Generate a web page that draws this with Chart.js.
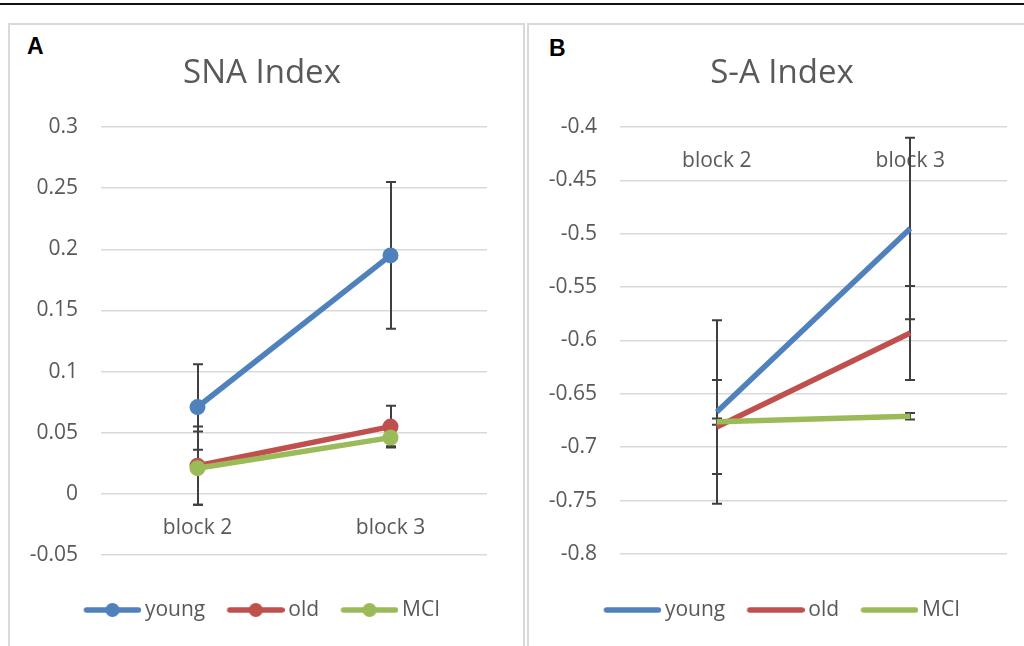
<!DOCTYPE html>
<html>
<head>
<meta charset="utf-8">
<script src="https://cdn.jsdelivr.net/npm/chart.js@4.4.1/dist/chart.umd.min.js"></script>
<style>
  body { margin: 0; width: 1024px; height: 646px; overflow: hidden; background: #fff; position: relative; }
  #rule { position: absolute; left: 0; top: 3px; width: 1024px; height: 2px; background: #111; }
  .panel { position: absolute; top: 23px; height: 640px; border: 2px solid #d9d9d9; box-sizing: border-box; }
  .tag { position: absolute; font: bold 23px "Liberation Sans", Arial, sans-serif; line-height: 23px; color: #000; }
  canvas { position: absolute; top: 27px; }
</style>
</head>
<body>
<div id="rule"></div>
<div class="panel" style="left:8px; width:517px;"></div>
<div class="panel" style="left:527px; width:520px;"></div>
<span class="tag" style="left:27px; top:35px;">A</span>
<span class="tag" style="left:549px; top:37px;">B</span>
<canvas id="chartA" width="504" height="619" style="left:10px;"></canvas>
<canvas id="chartB" width="504" height="619" style="left:530px;"></canvas>

<script>
// categories
const blocks = ['block 2', 'block 3'];
const groups = ['young', 'old', 'MCI'];
const groupColors = ['#4F81BD', '#C0504D', '#9BBB59'];

// A: SNA Index (mean and error)
const snaYoung = [0.071, 0.195];
const snaOld = [0.023, 0.055];
const snaMCI = [0.021, 0.046];
const snaYoungErr = [0.035, 0.060];
const snaOldErr = [0.032, 0.017];
const snaMCIErr = [0.030, 0.007];

// B: S-A Index (mean and error)
const saYoung = [-0.667, -0.495];
const saOld = [-0.681, -0.593];
const saMCI = [-0.676, -0.671];
const saYoungErr = [0.086, 0.085];
const saOldErr = [0.044, 0.044];
const saMCIErr = [0.003, 0.003];

const textGrey = '#595959';
const fontFam = '"Open Sans", "Noto Sans", sans-serif';

// error bars drawn under the series
const errorBars = {
  id: 'errorBars',
  beforeDatasetsDraw(chart) {
    const ctx = chart.ctx;
    const yScale = chart.scales.y;
    ctx.save();
    ctx.strokeStyle = '#3f3f3f';
    ctx.lineWidth = 2;
    chart.data.datasets.forEach((ds, i) => {
      const meta = chart.getDatasetMeta(i);
      meta.data.forEach((pt, j) => {
        const top = yScale.getPixelForValue(ds.data[j] + ds.errors[j]);
        const bot = yScale.getPixelForValue(ds.data[j] - ds.errors[j]);
        const x = Math.round(pt.x);
        ctx.beginPath();
        ctx.moveTo(x, top); ctx.lineTo(x, bot);
        ctx.moveTo(x - 5, top); ctx.lineTo(x + 5, top);
        ctx.moveTo(x - 5, bot); ctx.lineTo(x + 5, bot);
        ctx.stroke();
      });
    });
    ctx.restore();
  }
};

// little line (+ dot) picture for the legend
function swatch(color, dot) {
  const c = document.createElement('canvas');
  c.width = 64; c.height = 18;
  const g = c.getContext('2d');
  g.strokeStyle = color; g.lineWidth = 5.5; g.lineCap = 'round';
  g.beginPath(); g.moveTo(9.25, 9); g.lineTo(61.25, 9); g.stroke();
  if (dot) {
    g.fillStyle = color;
    g.beginPath(); g.arc(35.25, 9, 7, 0, Math.PI * 2); g.fill();
  }
  return c;
}

function makeChart(id, opts) {
  const datasets = opts.series.map((vals, i) => ({
    label: groups[i],
    data: vals,
    errors: opts.errors[i],
    borderColor: groupColors[i],
    backgroundColor: groupColors[i],
    borderWidth: 5.5,
    pointRadius: opts.dots ? 8 : 0,
    pointBorderWidth: 0,
    pointBackgroundColor: groupColors[i],
    order: 3 - i
  }));

  return new Chart(document.getElementById(id), {
    type: 'line',
    data: { labels: blocks, datasets: datasets },
    plugins: [errorBars],
    options: {
      responsive: false,
      animation: false,
      layout: { padding: { left: 0, right: 0, top: 0, bottom: 15.5 } },
      plugins: {
        tooltip: { enabled: false },
        title: {
          display: true,
          text: opts.title,
          color: textGrey,
          font: { family: fontFam, size: 33, weight: 'normal', lineHeight: 1.2 },
          padding: { top: 27, bottom: 33.4 }
        },
        legend: {
          position: 'bottom',
          labels: {
            color: textGrey,
            font: { family: fontFam, size: 21 },
            usePointStyle: true,
            pointStyleWidth: 50.5,
            padding: 22,
            sort: (a, b) => a.datasetIndex - b.datasetIndex,
            generateLabels: chart => Chart.defaults.plugins.legend.labels.generateLabels(chart)
              .map(item => Object.assign(item, { pointStyle: swatch(groupColors[item.datasetIndex], opts.dots) }))
          }
        }
      },
      scales: {
        x: {
          position: { y: opts.cross },
          offset: true,
          grid: { display: false, drawTicks: false },
          border: { display: false },
          ticks: { color: textGrey, font: { family: fontFam, size: 21 }, padding: 21.4, maxRotation: 0 }
        },
        xGap: {
          axis: 'x',
          type: 'category',
          position: 'bottom',
          grid: { display: false, drawTicks: false },
          border: { display: false },
          ticks: { display: false },
          afterFit: s => { s.height = opts.gap; }
        },
        y: {
          min: opts.min,
          max: opts.max,
          grid: { color: '#d9d9d9', lineWidth: 1.5, drawTicks: false },
          border: { display: false },
          ticks: {
            stepSize: 0.05,
            color: textGrey,
            font: { family: fontFam, size: 21 },
            padding: 23,
            callback: v => String(+v.toFixed(2))
          },
          afterFit: s => { s.width = opts.axisWidth; }
        },
        yGap: {
          axis: 'y',
          type: 'linear',
          position: 'right',
          grid: { display: false, drawTicks: false },
          border: { display: false },
          ticks: { display: false },
          afterFit: s => { s.width = 27; }
        }
      }
    }
  });
}

makeChart('chartA', {
  title: 'SNA Index',
  series: [snaYoung, snaOld, snaMCI],
  errors: [snaYoungErr, snaOldErr, snaMCIErr],
  dots: true,
  min: -0.05, max: 0.3, cross: 0,
  axisWidth: 91, gap: 22.5
});

makeChart('chartB', {
  title: 'S-A Index',
  series: [saYoung, saOld, saMCI],
  errors: [saYoungErr, saOldErr, saMCIErr],
  dots: false,
  min: -0.8, max: -0.4, cross: -0.4,
  axisWidth: 90, gap: 23.5
});
</script>
</body>
</html>
